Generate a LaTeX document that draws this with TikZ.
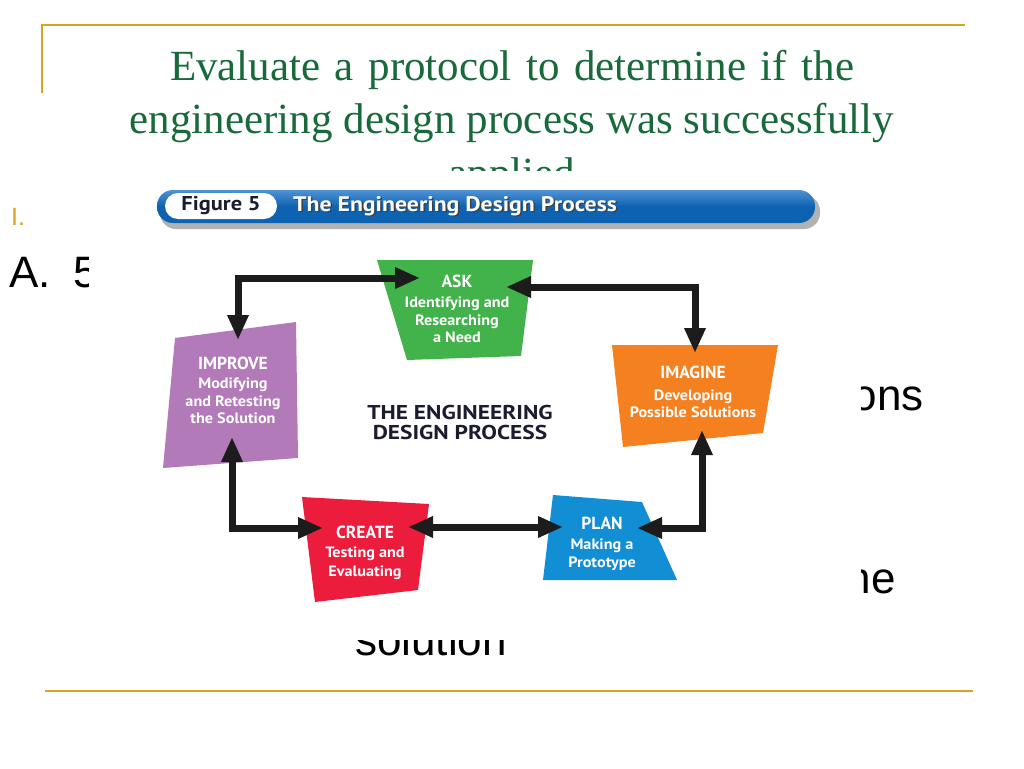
\documentclass[tikz,border=0pt]{standalone}
\usepackage{fontspec}
\usepackage{graphicx}
\setmainfont{Liberation Serif}
\newfontfamily\slidesans{Liberation Sans}
\newfontfamily\figfont{PT Sans}
\usetikzlibrary{arrows.meta}
\newcommand{\wideby}[2]{\scalebox{#1}[1]{#2}}
\definecolor{gold}{RGB}{214,164,32}
\definecolor{titlegreen}{RGB}{24,106,58}
\definecolor{askgreen}{RGB}{66,178,74}
\definecolor{improvepurple}{RGB}{178,122,184}
\definecolor{imagineorange}{RGB}{245,128,32}
\definecolor{createred}{RGB}{236,28,60}
\definecolor{planblue}{RGB}{18,142,212}
\definecolor{bannerblue}{RGB}{14,98,178}
\definecolor{bannertop}{RGB}{80,146,212}
\definecolor{navytext}{RGB}{28,28,48}
\definecolor{arrowblack}{RGB}{28,28,28}
\begin{document}
\begin{tikzpicture}[x=1pt,y=-1pt,
  titletext/.style={font=\fontsize{43}{54}\selectfont, text=titlegreen, inner sep=0pt, anchor=base},
  bodytext/.style={font=\slidesans\fontsize{44}{50}\selectfont, text=black, inner sep=0pt},
  framerule/.style={draw=gold, line width=2pt},
  headtext/.style={font=\figfont\bfseries\fontsize{17.5}{18}\selectfont, text=white, inner sep=0pt},
  desctext/.style={font=\figfont\bfseries\fontsize{15}{17.5}\selectfont, text=white, align=center, inner sep=0pt},
  cyclearrow/.style={draw=arrowblack, line width=7pt,
    {Triangle[length=25pt,width=20pt]}-{Triangle[length=25pt,width=20pt]}}
]
\useasboundingbox (0,0) rectangle (1024,768);
\fill[white] (0,0) rectangle (1024,768);

% slide frame
\draw[framerule] (42,93) -- (42,25) -- (965,25);
\draw[framerule] (45,691) -- (973,691);

% slide title
\node[titletext] (title1) at (512,80) {\spaceskip=14.5pt Evaluate a protocol to determine if the};
\node[titletext] (title2) at (512,133) {engineering design process was successfully};
\begin{scope}
  \clip (0,0) rectangle (1024,170);
  \node[titletext] (title3) at (512,187) {applied};
\end{scope}

% slide body text (partly hidden by the figure)
\node[font=\slidesans\fontsize{25}{26}\selectfont, text=gold, inner sep=0pt, anchor=base west] (roman) at (11,225) {I.};
\begin{scope}
  \clip (0,0) rectangle (88,768);
  \node[bodytext, anchor=base west] (itemA) at (9,287) {A.\kern 23pt 5};
\end{scope}
\begin{scope}
  \clip (861,0) rectangle (1024,768);
  \node[bodytext, anchor=base east] (itemons) at (924,410) {ons};
  \node[bodytext, anchor=base east] (itemne) at (896,593) {ne};
\end{scope}
\begin{scope}
  \clip (0,640) rectangle (1024,768);
  \node[bodytext, anchor=base west] (itemsol) at (355,655) {solution};
\end{scope}

% figure banner
\fill[black!30, rounded corners=16pt] (160,195) rectangle (820,229);
\shade[top color=bannertop, bottom color=bannerblue, middle color=bannerblue, rounded corners=16pt] (157,190) rectangle (815,223);
\fill[white, rounded corners=13pt] (165,193) rectangle (277,219);
\node[font=\figfont\bfseries\fontsize{20}{22}\selectfont, text=navytext, inner sep=0pt] (figlabel) at (221,206) {\wideby{1.12}{Figure 5}};
\node[font=\figfont\bfseries\fontsize{21}{23}\selectfont, text=black!75, inner sep=0pt, anchor=west] (figtitleshadow) at (294.5,207.5) {\wideby{1.13}{The Engineering Design Process}};
\node[font=\figfont\bfseries\fontsize{21}{23}\selectfont, text=white, inner sep=0pt, anchor=west] (figtitle) at (293,206) {\wideby{1.13}{The Engineering Design Process}};

% stage shapes
\fill[askgreen] (377,260) -- (533,260) -- (521,356) -- (407,360) -- cycle;
\fill[improvepurple] (175,338) -- (296,322) -- (298,458) -- (163,468) -- cycle;
\fill[imagineorange] (612,345) -- (778,345) -- (763,433) -- (623,447) -- cycle;
\fill[createred] (302,497) -- (429,504) -- (418,590) -- (315,602) -- cycle;
\fill[planblue] (553,495) -- (642,502) -- (677,580) -- (543,580) -- cycle;

% arrow end points on the shapes
\coordinate (improveT) at (238,340);
\coordinate (askL) at (420,278);
\coordinate (askR) at (506,287);
\coordinate (imagineT) at (695,353);
\coordinate (imagineB) at (702,430);
\coordinate (planR) at (637,528);
\coordinate (planL) at (563,527);
\coordinate (createR) at (408,527);
\coordinate (createL) at (323,528);
\coordinate (improveB) at (232,437);

% cycle arrows
\draw[cyclearrow] (improveT) |- (askL);
\draw[cyclearrow] (askR) -| (imagineT);
\draw[cyclearrow] (imagineB) |- (planR);
\draw[cyclearrow] (createR) -- (planL);
\draw[cyclearrow] (improveB) |- (createL);

% stage labels
\node[headtext] (askH) at (457,281) {ASK};
\node[desctext] (askD) at (457,320) {\wideby{1.08}{Identifying and}\\\wideby{1.08}{Researching}\\\wideby{1.08}{a Need}};
\node[headtext] (improveH) at (233,363) {IMPROVE};
\node[desctext] (improveD) at (233,401) {\wideby{1.08}{Modifying}\\\wideby{1.08}{and Retesting}\\\wideby{1.08}{the Solution}};
\node[headtext] (imagineH) at (693,372) {IMAGINE};
\node[desctext] (imagineD) at (693,404) {\wideby{1.08}{Developing}\\\wideby{1.08}{Possible Solutions}};
\node[headtext] (createH) at (365,532) {CREATE};
\node[desctext, font=\figfont\bfseries\fontsize{15}{19}\selectfont] (createD) at (365,563) {\wideby{1.08}{Testing and}\\\wideby{1.08}{Evaluating}};
\node[headtext] (planH) at (602,523) {PLAN};
\node[desctext, font=\figfont\bfseries\fontsize{15}{18}\selectfont] (planD) at (602,555) {\wideby{1.08}{Making a}\\\wideby{1.08}{Prototype}};

% centre caption
\node[font=\figfont\bfseries\fontsize{20}{20}\selectfont, text=navytext, align=center, inner sep=0pt] (caption) at (460,422) {\wideby{1.17}{THE ENGINEERING}\\\wideby{1.17}{DESIGN PROCESS}};
\end{tikzpicture}
\end{document}
